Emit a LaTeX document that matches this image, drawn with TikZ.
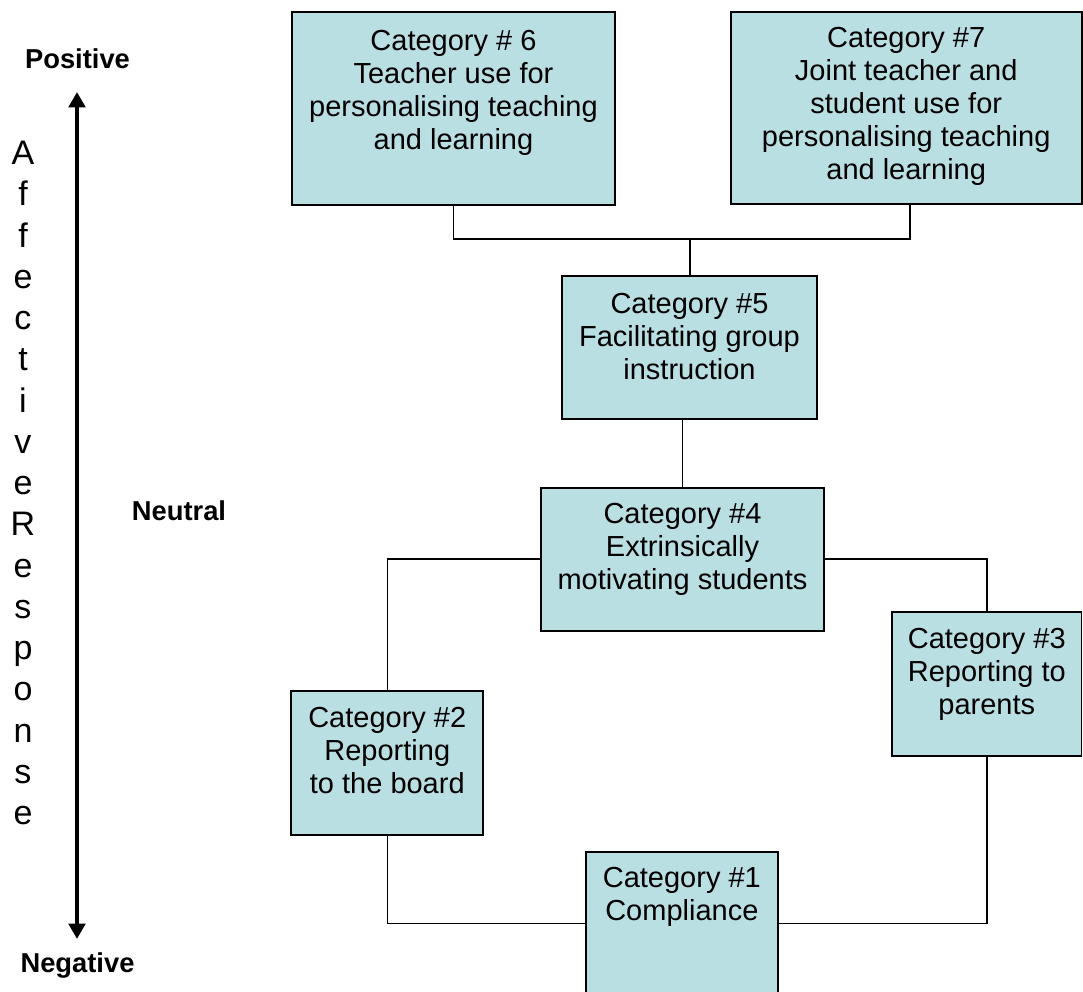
\documentclass[tikz,border=0pt]{standalone}
\usepackage{fontspec}
\setmainfont{Liberation Sans}
\usetikzlibrary{arrows.meta}
\definecolor{catfill}{RGB}{186,223,226}
\begin{document}
\begin{tikzpicture}[x=0.75pt,y=-0.75pt,
  catbox/.style={draw=black, line width=1.4pt, fill=catfill, inner sep=0pt},
  cattext/.style={anchor=north, align=center, inner sep=0pt, text=black,
    font=\fontsize{21.75}{24.75}\selectfont},
  conn/.style={draw=black, line width=1.1pt},
  axislabel/.style={anchor=base, inner sep=0pt, font=\fontsize{20.5}{24}\selectfont\bfseries},
  vertlabel/.style={anchor=north, align=center, inner sep=0pt,
    font=\fontsize{25.5}{30.94}\selectfont},
  axisarrow/.style={line width=3.5pt,
    {Triangle[width=12.25pt,length=11.5pt]}-{Triangle[width=12.25pt,length=11.5pt]}}]
\useasboundingbox (0,0) rectangle (1083,992);

% boxes
\node[catbox, minimum width=242.25pt, minimum height=144.75pt] (b6) at (453.5,108.5) {};
\node[catbox, minimum width=263.25pt, minimum height=144.2pt] (b7) at (906.2,107.85) {};
\node[catbox, minimum width=190.8pt, minimum height=107.5pt] (b5) at (689.5,347.7) {};
\node[catbox, minimum width=212.7pt, minimum height=107.25pt] (b4) at (682.5,559.2) {};
\node[catbox, minimum width=142.1pt, minimum height=108pt] (b3) at (986.8,683.7) {};
\node[catbox, minimum width=144pt, minimum height=108.2pt] (b2) at (387.3,762.85) {};
\node[catbox, minimum width=143.8pt, minimum height=108pt] (b1) at (681.85,923.7) {};

% texts
\node[cattext] (t6) at (453.5,30) {Category \# 6\\Teacher use for\\personalising teaching\\and learning};
\node[cattext] (t7) at (906.2,27) {Category \#7\\Joint teacher and\\student use for\\personalising teaching\\and learning};
\node[cattext] (t5) at (689.5,293) {Category \#5\\Facilitating group\\instruction};
\node[cattext] (t4) at (682.5,503) {Category \#4\\Extrinsically\\motivating students};
\node[cattext] (t3) at (986.8,628) {Category \#3\\Reporting to\\parents};
\node[cattext] (t2) at (387.3,707) {Category \#2\\Reporting\\to the board};
\node[cattext] (t1) at (681.85,867) {Category \#1\\Compliance};

% connectors
\coordinate (j67) at (690,239);
\coordinate (c7) at (910,0);
\draw[conn] (b6.south) |- (j67) -| (b7.south -| c7);
\draw[conn] (j67) -- (j67 |- b5.north);
\draw[conn] (b4.north |- b5.south) -- (b4.north);
\draw[conn] (b4.west) -| (b2.north);
\draw[conn] (b4.east) -| (b3.north);
\draw[conn] (b2.south) |- (b1.west);
\draw[conn] (b3.south) |- (b1.east);

% axis
\node[axislabel] (pos) at (77.5,68) {Positive};
\node[axislabel] (neu) at (179,520) {Neutral};
\node[axislabel] (neg) at (77.5,972) {Negative};
\coordinate (atop) at (77,92);
\coordinate (abot) at (77,939);
\draw[axisarrow] (atop) -- (abot);
\node[vertlabel] (aff) at (23,141) {A\\f\\f\\e\\c\\t\\i\\v\\e\\R\\e\\s\\p\\o\\n\\s\\e};
\end{tikzpicture}
\end{document}
